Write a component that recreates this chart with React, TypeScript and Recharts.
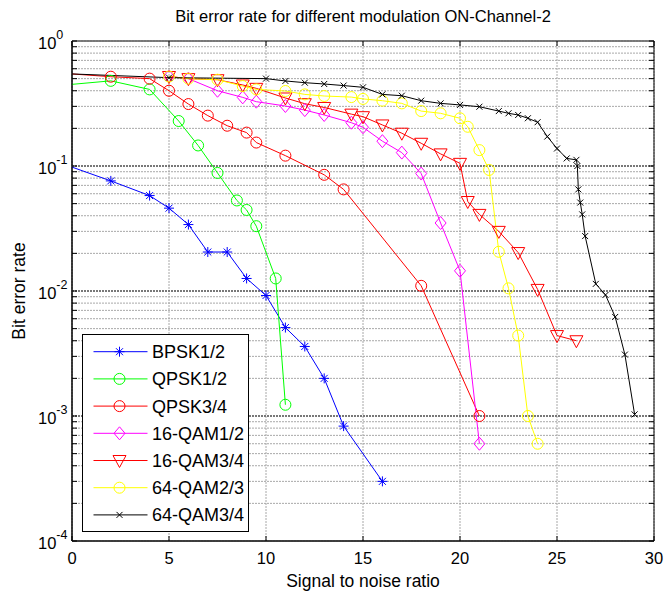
import React from 'react';
import {
  LineChart,
  Line,
  XAxis,
  YAxis,
  CartesianGrid,
  Legend,
  ReferenceLine,
  ReferenceArea,
} from 'recharts';

// SNR (x) and bit error rate (y) for each modulation
const bpskX = [0, 2, 4, 5, 6, 7, 8, 9, 10, 11, 12, 13, 14, 16];
const bpskY = [0.098, 0.076, 0.058, 0.046, 0.034, 0.0205, 0.0205, 0.0126, 0.0092, 0.0051, 0.0036, 0.002, 0.00083, 0.0003];

const qpsk12X = [0, 2, 4, 5.5, 6.5, 7.5, 8.5, 9, 9.5, 10.5, 11];
const qpsk12Y = [0.45, 0.48, 0.41, 0.229, 0.146, 0.088, 0.053, 0.0445, 0.033, 0.0126, 0.00123];

const qpsk34X = [0, 2, 4, 5, 6, 7, 8, 9, 9.5, 11, 13, 14, 18, 21];
const qpsk34Y = [0.545, 0.518, 0.5, 0.4, 0.313, 0.253, 0.21, 0.185, 0.154, 0.121, 0.085, 0.065, 0.011, 0.001];

const qam16a12X = [5, 6, 7.5, 8.8, 9.5, 11, 12, 13, 14.4, 15, 16, 17, 18, 19, 20, 21];
const qam16a12Y = [0.52, 0.5, 0.4, 0.354, 0.327, 0.302, 0.28, 0.256, 0.222, 0.204, 0.158, 0.128, 0.087, 0.035, 0.0145, 0.0006];

const qam16a34X = [5, 6, 7.5, 8.8, 9.5, 11, 12, 13, 14.4, 15, 16, 17, 18, 19, 20, 20.4, 21, 22, 23, 24, 25, 26];
const qam16a34Y = [0.52, 0.5, 0.49, 0.445, 0.418, 0.35, 0.315, 0.294, 0.26, 0.248, 0.213, 0.183, 0.152, 0.125, 0.105, 0.052, 0.041, 0.03, 0.0203, 0.0103, 0.0044, 0.004];

const qam64a23X = [5, 6, 7.5, 8.8, 9.5, 11, 12, 13, 14.4, 15, 16, 17, 18, 19, 20, 20.4, 21, 21.5, 22, 22.5, 23, 23.5, 24];
const qam64a23Y = [0.52, 0.5, 0.49, 0.436, 0.41, 0.398, 0.374, 0.363, 0.356, 0.344, 0.333, 0.317, 0.275, 0.264, 0.241, 0.206, 0.134, 0.093, 0.0206, 0.0105, 0.0044, 0.001, 0.0006];

const qam64a34X = [0, 5, 10, 11, 12, 13, 14, 15, 16, 17, 18, 19, 20, 21, 22, 22.5, 23, 23.5, 24, 24.5, 25, 25.5, 26, 26.05, 26.1, 26.2, 26.3, 26.45, 27, 27.5, 28, 28.5, 29];
const qam64a34Y = [0.545, 0.509, 0.5, 0.479, 0.464, 0.453, 0.44, 0.426, 0.374, 0.365, 0.333, 0.317, 0.308, 0.298, 0.275, 0.264, 0.256, 0.241, 0.224, 0.172, 0.138, 0.115, 0.112, 0.1, 0.065, 0.051, 0.041, 0.0275, 0.0114, 0.0093, 0.0062, 0.0031, 0.00103];

const xTicks = [0, 5, 10, 15, 20, 25, 30];
const decades = [1e-4, 1e-3, 1e-2, 1e-1, 1];

// log grid: every 1..9 step inside each decade
const yTicks: number[] = [];
for (let d = -4; d < 0; d++) {
  for (let m = 1; m < 10; m++) yTicks.push(m * Math.pow(10, d));
}
yTicks.push(1);

const W = 666;
const H = 594;
const PLOT_L = 72;
const PLOT_R = 654;
const PLOT_T = 41;
const PLOT_B = 541;
const FONT = '"Liberation Sans", Arial, Helvetica, sans-serif';

type MarkerKind = 'star' | 'circle' | 'diamond' | 'tridown' | 'x';

const series = [
  { name: 'BPSK1/2', xs: bpskX, ys: bpskY, color: '#0000ff', marker: 'star' as MarkerKind },
  { name: 'QPSK1/2', xs: qpsk12X, ys: qpsk12Y, color: '#00ff00', marker: 'circle' as MarkerKind },
  { name: 'QPSK3/4', xs: qpsk34X, ys: qpsk34Y, color: '#ff0000', marker: 'circle' as MarkerKind },
  { name: '16-QAM1/2', xs: qam16a12X, ys: qam16a12Y, color: '#ff00ff', marker: 'diamond' as MarkerKind },
  { name: '16-QAM3/4', xs: qam16a34X, ys: qam16a34Y, color: '#ff0000', marker: 'tridown' as MarkerKind },
  { name: '64-QAM2/3', xs: qam64a23X, ys: qam64a23Y, color: '#ffff00', marker: 'circle' as MarkerKind },
  { name: '64-QAM3/4', xs: qam64a34X, ys: qam64a34Y, color: '#000000', marker: 'x' as MarkerKind },
];

function Marker({ kind, color, cx, cy }: { kind: MarkerKind; color: string; cx: number; cy: number }) {
  const s = { stroke: color, strokeWidth: 1, fill: 'none' };
  if (kind === 'circle') return <circle cx={cx} cy={cy} r={5.5} {...s} />;
  if (kind === 'diamond')
    return <polygon points={`${cx},${cy - 6.5} ${cx + 5.5},${cy} ${cx},${cy + 6.5} ${cx - 5.5},${cy}`} {...s} />;
  if (kind === 'tridown')
    return <polygon points={`${cx - 6.5},${cy - 5} ${cx + 6.5},${cy - 5} ${cx},${cy + 7}`} {...s} />;
  if (kind === 'x')
    return (
      <path d={`M${cx - 3},${cy - 3}L${cx + 3},${cy + 3}M${cx - 3},${cy + 3}L${cx + 3},${cy - 3}`} {...s} />
    );
  // star: plus + cross
  return (
    <path
      d={`M${cx - 5},${cy}L${cx + 5},${cy}M${cx},${cy - 5}L${cx},${cy + 5}M${cx - 3.5},${cy - 3.5}L${cx + 3.5},${cy + 3.5}M${cx - 3.5},${cy + 3.5}L${cx + 3.5},${cy - 3.5}`}
      {...s}
    />
  );
}

const makeDot = (kind: MarkerKind, color: string) => (p: any) => {
  if (p.cx == null || p.cy == null || p.payload?.x === 0) return <g key={`d-${p.index}`} />;
  return <Marker key={`d-${p.index}`} kind={kind} color={color} cx={p.cx} cy={p.cy} />;
};

function YTick(props: any) {
  const { y, payload } = props;
  const v = payload.value;
  const e = Math.round(Math.log10(v));
  const major = Math.abs(Math.log10(v) - e) < 1e-6;
  return (
    <g>
      <line x1={PLOT_L} x2={PLOT_L + 5} y1={y} y2={y} stroke="#000" />
      <line x1={PLOT_R - 5} x2={PLOT_R} y1={y} y2={y} stroke="#000" />
      {major && (
        <text x={38} y={y + 7.5} fontSize={16.5} fontFamily={FONT} fill="#000">
          <tspan>10</tspan>
          <tspan dy={-10} fontSize={12.5}>{e}</tspan>
        </text>
      )}
    </g>
  );
}

function XTick(props: any) {
  const { x, payload } = props;
  return (
    <g>
      <line x1={x} x2={x} y1={PLOT_B} y2={PLOT_B - 5} stroke="#000" />
      <line x1={x} x2={x} y1={PLOT_T} y2={PLOT_T + 5} stroke="#000" />
      <text x={x} y={PLOT_B + 23} textAnchor="middle" fontSize={16.5} fontFamily={FONT} fill="#000">
        {payload.value}
      </text>
    </g>
  );
}

function LegendBox() {
  const rowH = 27.2;
  return (
    <svg width={167} height={198} style={{ display: 'block' }}>
      <rect x={0.5} y={0.5} width={166} height={197} fill="#fff" stroke="#000" strokeWidth={1} />
      {series.map((s, i) => {
        const cy = 17.7 + i * rowH;
        return (
          <g key={s.name}>
            <line x1={11.5} x2={65.5} y1={cy} y2={cy} stroke={s.color} strokeWidth={1} />
            <Marker kind={s.marker} color={s.color} cx={37.5} cy={cy} />
            <text x={70} y={cy + 6.5} fontSize={18} fontFamily={FONT} fill="#000">
              {s.name}
            </text>
          </g>
        );
      })}
    </svg>
  );
}

export default function App() {
  return (
    <div style={{ position: 'absolute', left: 0, top: 0, width: W, height: H, background: '#fff' }}>
      <LineChart
        width={W}
        height={H}
        margin={{ top: PLOT_T, right: W - PLOT_R, bottom: 23, left: 12 }}
      >
        <CartesianGrid stroke="#a8a8a8" strokeDasharray="2 1" />
        {decades.map((d) => (
          <ReferenceLine key={d} y={d} stroke="#787878" strokeWidth={2} strokeDasharray="2 1" />
        ))}
        <XAxis
          dataKey="x"
          type="number"
          domain={[0, 30]}
          ticks={xTicks}
          interval={0}
          allowDataOverflow
          height={30}
          tickLine={false}
          axisLine={{ stroke: '#000' }}
          tick={<XTick />}
        />
        <YAxis
          type="number"
          scale="log"
          domain={[1e-4, 1]}
          ticks={yTicks}
          interval={0}
          allowDataOverflow
          width={60}
          tickLine={false}
          axisLine={{ stroke: '#000' }}
          tick={<YTick />}
        />
        <ReferenceArea x1={0} x2={30} y1={1e-4} y2={1} fill="none" stroke="#000" strokeWidth={1} />
        {series.map((s) => (
          <Line
            key={s.name}
            data={s.xs.map((x, i) => ({ x, y: s.ys[i] }))}
            dataKey="y"
            name={s.name}
            type="linear"
            stroke={s.color}
            strokeWidth={1}
            dot={makeDot(s.marker, s.color)}
            activeDot={false}
            isAnimationActive={false}
          />
        ))}
        <Legend
          layout="vertical"
          align="center"
          verticalAlign="middle"
          wrapperStyle={{ left: 82, top: 334, width: 167, height: 198 }}
          content={() => <LegendBox />}
        />
        <text x={363} y={22} textAnchor="middle" fontSize={16.5} fontFamily={FONT} fill="#000">
          Bit error rate for different modulation ON-Channel-2
        </text>
        <text x={363} y={587} textAnchor="middle" fontSize={17.5} fontFamily={FONT} fill="#000">
          Signal to noise ratio
        </text>
        <text
          x={25}
          y={291}
          textAnchor="middle"
          fontSize={17.5}
          fontFamily={FONT}
          fill="#000"
          transform="rotate(-90 25 291)"
        >
          Bit error rate
        </text>
      </LineChart>
    </div>
  );
}
